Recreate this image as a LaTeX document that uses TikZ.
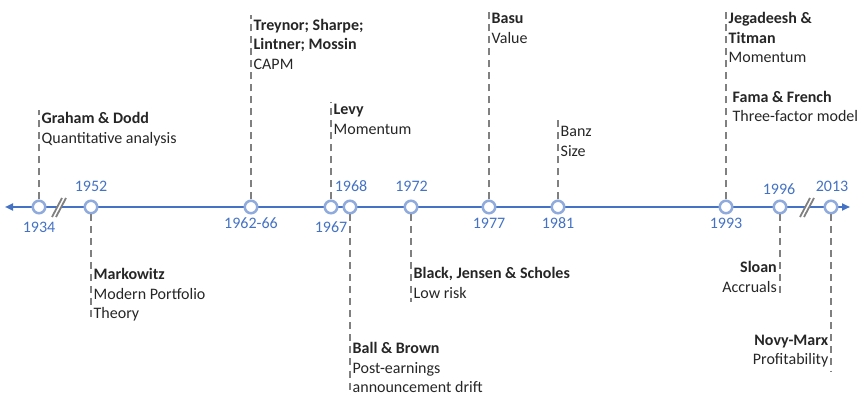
\documentclass[tikz,border=0pt]{standalone}
\usepackage{fontspec}
\setmainfont{Carlito}
\usetikzlibrary{arrows.meta}
\definecolor{axisblue}{HTML}{4472C4}
\definecolor{ringblue}{HTML}{8FAADC}
\definecolor{dashgray}{HTML}{808080}
\definecolor{txt}{HTML}{262626}
\newcommand{\linesL}[1]{\begin{tabular}[t]{@{}l@{}}#1\end{tabular}}
\newcommand{\linesR}[1]{\begin{tabular}[t]{@{}r@{}}#1\end{tabular}}
\begin{document}
\begin{tikzpicture}[x=1pt,y=-1pt,
  axisline/.style={draw=axisblue,line width=2pt,{Triangle[length=8pt,width=7pt]}-{Triangle[length=8pt,width=7pt]}},
  yearpt/.style={circle,draw=ringblue,fill=white,line width=2.5pt,minimum size=12.5pt,inner sep=0pt},
  stem/.style={draw=dashgray,line width=2.8pt,dash pattern=on 7pt off 5pt},
  yearlab/.style={text=axisblue,font=\fontsize{16}{19.5}\selectfont,inner sep=0pt,anchor=base},
  lab/.style={text=txt,font=\fontsize{16}{19.5}\selectfont,inner sep=0pt,anchor=base west},
  labr/.style={text=txt,font=\fontsize{16}{19.5}\selectfont,inner sep=0pt,anchor=base east},
  brk/.style={draw=dashgray,line width=1.8pt}
]
\useasboundingbox (0,0) rectangle (865,395);
% axis
\coordinate (axL) at (5,207);
\coordinate (axR) at (850,207);
\draw[axisline] (axL) -- (axR);
% breaks
\foreach \bx/\nm in {59/b1,807/b2}{
  \coordinate (\nm a) at (\bx-7,217);
  \coordinate (\nm b) at (\bx+3,198);
  \coordinate (\nm c) at (\bx-3,217);
  \coordinate (\nm d) at (\bx+7,198);
  \fill[white] (\nm a) -- (\nm b) -- (\nm d) -- (\nm c) -- cycle;
  \draw[brk] (\nm a) -- (\nm b);
  \draw[brk] (\nm c) -- (\nm d);
}
% year points
\node[yearpt] (c1934) at (39,207) {};
\node[yearpt] (c1952) at (91,207) {};
\node[yearpt] (c1962) at (251,207) {};
\node[yearpt] (c1967) at (331,207) {};
\node[yearpt] (c1968) at (350,207) {};
\node[yearpt] (c1972) at (411,207) {};
\node[yearpt] (c1977) at (489,207) {};
\node[yearpt] (c1981) at (558,207) {};
\node[yearpt] (c1993) at (726,207) {};
\node[yearpt] (c1996) at (780,207) {};
\node[yearpt] (c2013) at (831,207) {};
% year labels
\node[yearlab] (y1934) at (39,233) {1934};
\node[yearlab] (y1952) at (91,192) {1952};
\node[yearlab] (y1962) at (251,228.5) {1962-66};
\node[yearlab] (y1967) at (331,233) {1967};
\node[yearlab] (y1968) at (351,192) {1968};
\node[yearlab] (y1972) at (411.5,192) {1972};
\node[yearlab] (y1977) at (489,228.5) {1977};
\node[yearlab] (y1981) at (558,228.5) {1981};
\node[yearlab] (y1993) at (726,228.5) {1993};
\node[yearlab] (y1996) at (779,195) {1996};
\node[yearlab] (y2013) at (832,192) {2013};
% stem ends
\coordinate (t1934) at (39,110);
\coordinate (t1962) at (251,15);
\coordinate (t1967) at (331,102);
\coordinate (t1977) at (489,10);
\coordinate (t1981) at (558,120);
\coordinate (t1993) at (726,11);
\coordinate (t1952) at (91,322);
\coordinate (t1968) at (350,395);
\coordinate (t1972) at (411,302);
\coordinate (t1996) at (780,297);
\coordinate (t2013) at (831,372);
\foreach \yr in {1934,1962,1967,1977,1981,1993,1952,1968,1972,1996,2013}{
  \draw[stem] (c\yr) -- (t\yr);
}
% labels above
\node[lab] (l1934) at (41.5,124) {\linesL{\textbf{Graham \& Dodd}\\Quantitative analysis}};
\node[lab] (l1962) at (253.5,30.5) {\linesL{\textbf{Treynor; Sharpe;}\\\textbf{Lintner; Mossin}\\CAPM}};
\node[lab] (l1967) at (333.5,115) {\linesL{\textbf{Levy}\\Momentum}};
\node[lab] (l1977) at (491.5,24) {\linesL{\textbf{Basu}\\Value}};
\node[lab] (l1981) at (560.5,137) {\linesL{Banz\\Size}};
\node[lab] (l1993) at (728.5,24) {\linesL{\textbf{Jegadeesh \&}\\\textbf{Titman}\\Momentum}};
\node[lab] (l1993b) at (732.5,102.5) {\linesL{\textbf{Fama \& French}\\Three-factor model}};
% labels below
\node[lab] (l1952) at (93.5,280) {\linesL{\textbf{Markowitz}\\Modern Portfolio\\Theory}};
\node[lab] (l1968) at (352.5,354) {\linesL{\textbf{Ball \& Brown}\\Post-earnings\\announcement drift}};
\node[lab] (l1972) at (413.5,279) {\linesL{\textbf{Black, Jensen \& Scholes}\\Low risk}};
\node[labr] (l1996) at (777,273) {\linesR{\textbf{Sloan}\\Accruals}};
\node[labr] (l2013) at (828.5,345) {\linesR{\textbf{Novy-Marx}\\Profitability}};
\end{tikzpicture}
\end{document}
